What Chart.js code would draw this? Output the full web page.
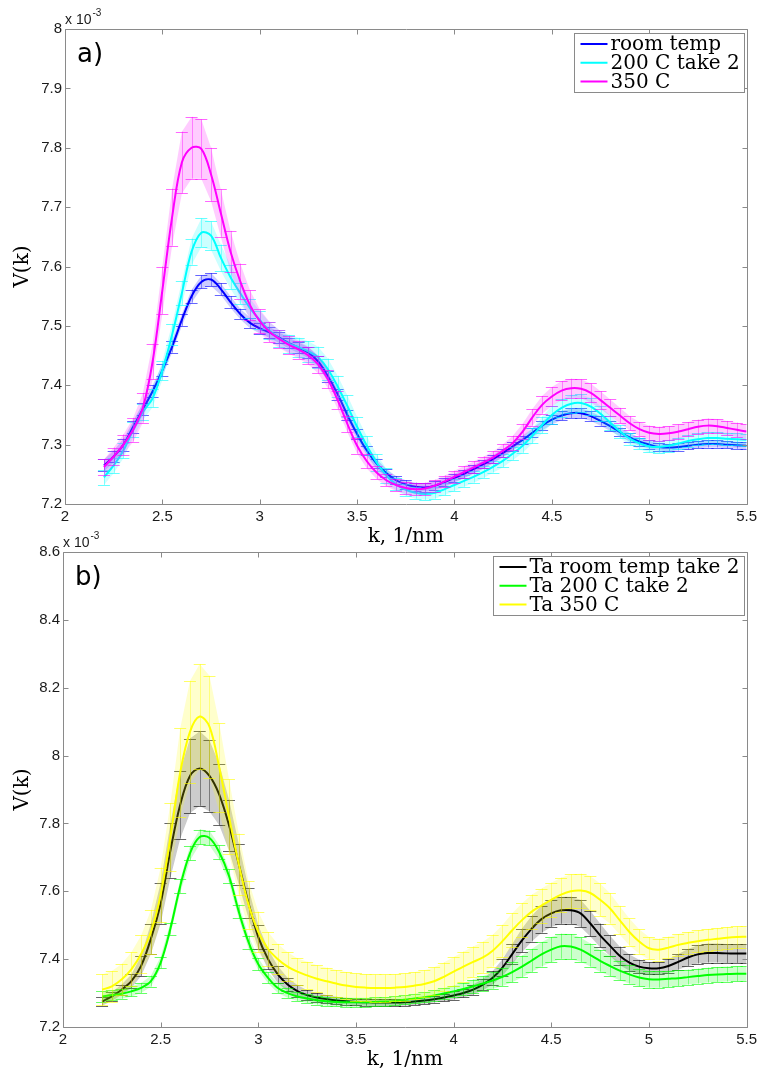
<!DOCTYPE html>
<html>
<head>
<meta charset="utf-8">
<title>V(k)</title>
<script src="https://cdn.jsdelivr.net/npm/chart.js@4.4.0/dist/chart.umd.min.js"></script>
<style>
  html, body { margin: 0; padding: 0; background: #fff; }
  #page { position: relative; width: 761px; height: 1074px; overflow: hidden; }
  canvas { position: absolute; left: 0; }
  #chartA { top: 0; }
  #chartB { top: 523px; }
</style>
</head>
<body>
<div id="page">
  <canvas id="chartA" width="761" height="560"></canvas>
  <canvas id="chartB" width="761" height="551"></canvas>
</div>
<script>
// k grid, 1/nm
const kValues = [
  2.2, 2.25, 2.3, 2.35, 2.4, 2.45, 2.5, 2.55, 2.6, 2.65,
  2.7, 2.75, 2.8, 2.85, 2.9, 2.95, 3, 3.05, 3.1, 3.15,
  3.2, 3.25, 3.3, 3.35, 3.4, 3.45, 3.5, 3.55, 3.6, 3.65,
  3.7, 3.75, 3.8, 3.85, 3.9, 3.95, 4, 4.05, 4.1, 4.15,
  4.2, 4.25, 4.3, 4.35, 4.4, 4.45, 4.5, 4.55, 4.6, 4.65,
  4.7, 4.75, 4.8, 4.85, 4.9, 4.95, 5, 5.05, 5.1, 5.15,
  5.2, 5.25, 5.3, 5.35, 5.4, 5.45, 5.5
];
const kTicks = [2, 2.5, 3, 3.5, 4, 4.5, 5, 5.5];

// a) V(k), units of 1e-3
const roomTemp = [
  7.265, 7.28, 7.30, 7.33, 7.36, 7.39, 7.425, 7.465, 7.51, 7.55,
  7.574, 7.578, 7.562, 7.54, 7.52, 7.505, 7.496, 7.489, 7.48, 7.471,
  7.463, 7.455, 7.44, 7.415, 7.385, 7.35, 7.318, 7.29, 7.268, 7.252,
  7.24, 7.233, 7.229, 7.228, 7.231, 7.237, 7.244, 7.251, 7.259, 7.267,
  7.276, 7.286, 7.297, 7.308, 7.32, 7.332, 7.342, 7.349, 7.353, 7.353,
  7.348, 7.34, 7.331, 7.321, 7.312, 7.305, 7.30, 7.296, 7.295, 7.296,
  7.298, 7.30, 7.301, 7.301, 7.30, 7.299, 7.298
];
const roomTempErr = [
  .010, .010, .010, .010, .010, .010, .010, .010, .010, .011,
  .011, .011, .010, .010, .009, .009, .009, .009, .009, .009,
  .009, .009, .009, .009, .009, .009, .008, .008, .008, .007,
  .007, .007, .007, .007, .007, .007, .007, .007, .007, .007,
  .007, .007, .007, .007, .008, .008, .008, .008, .008, .008,
  .008, .008, .008, .007, .007, .007, .007, .006, .006, .006,
  .006, .006, .006, .006, .006, .006, .006
];
const take200 = [
  7.245, 7.265, 7.29, 7.325, 7.355, 7.378, 7.425, 7.485, 7.555, 7.625,
  7.657, 7.652, 7.615, 7.582, 7.555, 7.53, 7.51, 7.492, 7.479, 7.47,
  7.464, 7.457, 7.447, 7.427, 7.398, 7.365, 7.33, 7.298, 7.27, 7.248,
  7.233, 7.224, 7.219, 7.217, 7.219, 7.225, 7.232, 7.239, 7.246, 7.254,
  7.263, 7.273, 7.285, 7.298, 7.315, 7.333, 7.35, 7.362, 7.369, 7.37,
  7.364, 7.352, 7.337, 7.322, 7.31, 7.302, 7.297, 7.296, 7.298, 7.302,
  7.306, 7.309, 7.311, 7.311, 7.31, 7.309, 7.308
];
const take200Err = [
  .013, .013, .013, .013, .014, .015, .016, .018, .020, .022,
  .024, .024, .022, .020, .018, .016, .015, .014, .014, .015,
  .016, .017, .018, .018, .018, .018, .017, .016, .014, .012,
  .010, .010, .010, .010, .010, .010, .010, .010, .010, .010,
  .010, .011, .011, .012, .013, .014, .015, .015, .015, .015,
  .014, .013, .012, .011, .010, .010, .010, .010, .010, .010,
  .010, .010, .010, .010, .010, .010, .010
];
const temp350 = [
  7.262, 7.28, 7.30, 7.325, 7.362, 7.44, 7.56, 7.683, 7.775, 7.80,
  7.798, 7.755, 7.69, 7.625, 7.575, 7.535, 7.508, 7.49, 7.478, 7.468,
  7.46, 7.45, 7.435, 7.41, 7.375, 7.335, 7.298, 7.272, 7.253, 7.24,
  7.232, 7.227, 7.225, 7.226, 7.231, 7.238, 7.246, 7.254, 7.262, 7.27,
  7.279, 7.29, 7.303, 7.322, 7.346, 7.367, 7.381, 7.391, 7.395, 7.394,
  7.387, 7.375, 7.362, 7.349, 7.336, 7.326, 7.32, 7.318, 7.319, 7.322,
  7.326, 7.33, 7.332, 7.331, 7.328, 7.325, 7.322
];
const temp350Err = [
  .013, .015, .017, .020, .025, .030, .040, .048, .052, .052,
  .050, .045, .040, .035, .030, .025, .020, .017, .015, .015,
  .015, .015, .015, .015, .015, .014, .013, .012, .011, .010,
  .010, .010, .010, .010, .010, .010, .010, .010, .010, .010,
  .010, .011, .012, .013, .014, .015, .016, .016, .016, .016,
  .016, .015, .014, .013, .012, .012, .012, .012, .012, .012,
  .012, .012, .012, .012, .012, .012, .012
];
const yTicksA = [7.2, 7.3, 7.4, 7.5, 7.6, 7.7, 7.8, 7.9, 8];

// b) Ta samples, units of 1e-3
const taRoom = [
  7.275, 7.29, 7.31, 7.335, 7.38, 7.46, 7.565, 7.72, 7.855, 7.94,
  7.962, 7.94, 7.885, 7.795, 7.68, 7.565, 7.465, 7.40, 7.355, 7.325,
  7.306, 7.294, 7.287, 7.282, 7.278, 7.276, 7.274, 7.273, 7.272, 7.272,
  7.272, 7.273, 7.275, 7.278, 7.282, 7.287, 7.293, 7.30, 7.31, 7.325,
  7.345, 7.375, 7.415, 7.455, 7.49, 7.518, 7.535, 7.544, 7.544, 7.535,
  7.505, 7.47, 7.44, 7.41, 7.39, 7.378, 7.373, 7.373, 7.38, 7.392,
  7.405, 7.414, 7.418, 7.418, 7.417, 7.417, 7.417
];
const taRoomErr = [
  .012, .013, .015, .020, .030, .045, .060, .080, .100, .110,
  .110, .105, .090, .075, .060, .045, .035, .030, .025, .020,
  .018, .015, .013, .012, .011, .010, .010, .010, .010, .010,
  .010, .010, .010, .010, .010, .011, .012, .013, .015, .017,
  .020, .025, .030, .035, .038, .040, .040, .040, .040, .040,
  .038, .035, .030, .027, .024, .020, .018, .018, .020, .023,
  .025, .027, .028, .028, .028, .028, .028
];
const ta200 = [
  7.29, 7.294, 7.298, 7.305, 7.315, 7.335, 7.39, 7.49, 7.615, 7.712,
  7.76, 7.757, 7.715, 7.645, 7.54, 7.45, 7.385, 7.345, 7.315, 7.30,
  7.29, 7.284, 7.279, 7.276, 7.274, 7.273, 7.273, 7.273, 7.274, 7.275,
  7.277, 7.28, 7.284, 7.288, 7.293, 7.299, 7.305, 7.312, 7.32, 7.328,
  7.337, 7.348, 7.362, 7.378, 7.396, 7.414, 7.428, 7.438, 7.437, 7.428,
  7.412, 7.395, 7.38, 7.366, 7.355, 7.346, 7.341, 7.34, 7.342, 7.344,
  7.347, 7.35, 7.353, 7.355, 7.356, 7.357, 7.357
];
const ta200Err = [
  .015, .015, .015, .015, .015, .016, .017, .018, .020, .021,
  .022, .022, .021, .020, .020, .019, .018, .016, .015, .014,
  .013, .013, .013, .013, .013, .013, .013, .013, .013, .013,
  .013, .013, .014, .014, .015, .016, .017, .018, .020, .022,
  .024, .027, .030, .032, .034, .036, .037, .037, .037, .036,
  .034, .032, .030, .028, .027, .026, .025, .024, .024, .023,
  .022, .022, .022, .022, .022, .022, .022
];
const ta350 = [
  7.31, 7.32, 7.34, 7.37, 7.415, 7.48, 7.59, 7.76, 7.95, 8.07,
  8.115, 8.085, 7.965, 7.82, 7.68, 7.56, 7.48, 7.43, 7.40, 7.378,
  7.363, 7.352, 7.342, 7.335, 7.328, 7.322, 7.318, 7.316, 7.315, 7.315,
  7.316, 7.318, 7.322, 7.327, 7.335, 7.348, 7.363, 7.378, 7.392, 7.405,
  7.425, 7.453, 7.485, 7.515, 7.54, 7.558, 7.575, 7.59, 7.60, 7.602,
  7.595, 7.575, 7.55, 7.515, 7.48, 7.452, 7.432, 7.428, 7.434, 7.442,
  7.448, 7.453, 7.457, 7.46, 7.463, 7.465, 7.466
];
const ta350Err = [
  .045, .045, .046, .050, .055, .065, .080, .100, .130, .150,
  .155, .150, .130, .110, .090, .070, .060, .050, .045, .042,
  .040, .040, .040, .040, .040, .040, .040, .040, .040, .040,
  .040, .040, .040, .040, .041, .042, .043, .044, .045, .046,
  .047, .048, .050, .050, .050, .050, .050, .050, .050, .050,
  .050, .048, .045, .042, .040, .036, .033, .032, .032, .032,
  .032, .032, .032, .032, .032, .032, .032
];
const yTicksB = [7.2, 7.4, 7.6, 7.8, 8, 8.2, 8.4, 8.6];

const SANS = '"Liberation Sans", Arial, Helvetica, sans-serif';
const SERIF = '"DejaVu Serif", "Liberation Serif", serif';

function rgba(hex, a) {
    const n = parseInt(hex.slice(1), 16);
    return `rgba(${(n >> 16) & 255}, ${(n >> 8) & 255}, ${n & 255}, ${a})`;
}

function toPoints(values) {
    return kValues.map((k, i) => ({ x: k, y: values[i] }));
}

function series(label, color, values, errors, order) {
    return {
        label: label,
        data: toPoints(values),
        errors: errors,
        borderColor: color,
        backgroundColor: color,
        borderWidth: 2,
        pointRadius: 0,
        tension: 0.35,
        fill: false,
        order: order
    };
}

// error bars (band, stems, caps) drawn just under each curve
const errorBars = {
    id: 'errorBars',
    beforeDatasetDraw(chart, args) {
        const ds = chart.data.datasets[args.index];
        if (!ds.errors) return;
        const { ctx, chartArea: a } = chart;
        const xs = chart.scales.x, ys = chart.scales.y;
        const capHalf = 6;
        const hi = ds.data.map((p, i) => ys.getPixelForValue(p.y + ds.errors[i]));
        const lo = ds.data.map((p, i) => ys.getPixelForValue(p.y - ds.errors[i]));
        const px = ds.data.map(p => xs.getPixelForValue(p.x));

        ctx.save();
        ctx.beginPath();
        ctx.rect(a.left, a.top, a.right - a.left, a.bottom - a.top);
        ctx.clip();

        ctx.beginPath();
        px.forEach((x, i) => i ? ctx.lineTo(x, hi[i]) : ctx.moveTo(x, hi[i]));
        for (let i = px.length - 1; i >= 0; i--) ctx.lineTo(px[i], lo[i]);
        ctx.closePath();
        ctx.fillStyle = rgba(ds.borderColor, 0.2);
        ctx.fill();

        ctx.lineWidth = 1;
        ctx.strokeStyle = rgba(ds.borderColor, 0.4);
        ctx.beginPath();
        px.forEach((x, i) => {
            const sx = Math.round(x) + 0.5;
            ctx.moveTo(sx, hi[i]);
            ctx.lineTo(sx, lo[i]);
        });
        ctx.stroke();

        ctx.strokeStyle = rgba(ds.borderColor, 0.6);
        ctx.beginPath();
        px.forEach((x, i) => {
            [hi[i], lo[i]].forEach(y => {
                const sy = Math.round(y) + 0.5;
                ctx.moveTo(x - capHalf, sy);
                ctx.lineTo(x + capHalf, sy);
            });
        });
        ctx.stroke();
        ctx.restore();
    }
};

// grey box with inward ticks on all four sides
const axesBox = {
    id: 'axesBox',
    afterDatasetsDraw(chart) {
        const { ctx, chartArea: a } = chart;
        const xs = chart.scales.x, ys = chart.scales.y;
        const len = 5;
        const l = Math.round(a.left) + 0.5, r = Math.round(a.right) + 0.5;
        const t = Math.round(a.top) + 0.5, b = Math.round(a.bottom) + 0.5;
        ctx.save();
        ctx.strokeStyle = '#8a8a8a';
        ctx.lineWidth = 1;
        ctx.beginPath();
        ctx.rect(l, t, r - l, b - t);
        xs.ticks.forEach(tk => {
            const x = Math.round(xs.getPixelForValue(tk.value)) + 0.5;
            ctx.moveTo(x, b); ctx.lineTo(x, b - len);
            ctx.moveTo(x, t); ctx.lineTo(x, t + len);
        });
        ys.ticks.forEach(tk => {
            const y = Math.round(ys.getPixelForValue(tk.value)) + 0.5;
            ctx.moveTo(l, y); ctx.lineTo(l + len, y);
            ctx.moveTo(r, y); ctx.lineTo(r - len, y);
        });
        ctx.stroke();
        ctx.restore();
    }
};

// panel tag, exponent label and boxed legend
const panelText = {
    id: 'panelText',
    afterDraw(chart, args, opts) {
        const { ctx, chartArea: a } = chart;
        ctx.save();

        ctx.fillStyle = '#1a1a1a';
        ctx.textBaseline = 'alphabetic';
        ctx.textAlign = 'left';
        ctx.font = '14px ' + SANS;
        ctx.fillText('x 10', a.left, a.top - 5);
        const w = ctx.measureText('x 10').width;
        ctx.font = '10px ' + SANS;
        ctx.fillText('-3', a.left + w + 1, a.top - 13);

        ctx.fillStyle = '#000';
        ctx.font = '26px "DejaVu Sans", sans-serif';
        ctx.fillText(opts.tag, a.left + 12, a.top + 33);

        const items = chart.data.datasets.map(d => ({ label: d.label, color: d.borderColor }));
        ctx.font = '20px ' + SERIF;
        const textW = Math.max(...items.map(it => ctx.measureText(it.label).width));
        const boxW = Math.round(36 + textW + 5);
        const boxH = 59;
        const bx = Math.round(a.right) - 3 - boxW + 0.5;
        const by = Math.round(a.top) + 4 + 0.5;
        ctx.fillStyle = '#fff';
        ctx.fillRect(bx, by, boxW, boxH);
        ctx.strokeStyle = '#8a8a8a';
        ctx.lineWidth = 1;
        ctx.strokeRect(bx, by, boxW, boxH);
        ctx.textBaseline = 'middle';
        items.forEach((it, i) => {
            const y = by + 11.5 + i * 18.75;
            ctx.strokeStyle = it.color;
            ctx.lineWidth = 2;
            ctx.beginPath();
            ctx.moveTo(bx + 6, y - 1);
            ctx.lineTo(bx + 33, y - 1);
            ctx.stroke();
            ctx.fillStyle = '#000';
            ctx.fillText(it.label, bx + 36, y);
        });
        ctx.restore();
    }
};

function tickText(v) {
    return String(parseFloat(v.toFixed(1)));
}

function makePanel(canvasId, datasets, yTicks, layout) {
    const ctx = document.getElementById(canvasId).getContext('2d');
    return new Chart(ctx, {
        type: 'line',
        data: { datasets: datasets },
        plugins: [errorBars, axesBox, panelText],
        options: {
            responsive: false,
            animation: false,
            layout: { padding: { left: 0, right: layout.right, top: 29, bottom: 0 } },
            plugins: {
                legend: { display: false },
                tooltip: { enabled: false },
                panelText: { tag: layout.tag }
            },
            scales: {
                x: {
                    type: 'linear',
                    min: 2,
                    max: 5.5,
                    afterBuildTicks: s => { s.ticks = kTicks.map(v => ({ value: v })); },
                    afterFit: s => { s.height = layout.xHeight; },
                    grid: { display: false, drawTicks: false },
                    border: { display: false },
                    ticks: {
                        autoSkip: false,
                        maxRotation: 0,
                        padding: 4,
                        color: '#1a1a1a',
                        font: { family: SANS, size: 15 },
                        callback: tickText
                    },
                    title: {
                        display: true,
                        text: 'k, 1/nm',
                        color: '#000',
                        font: { family: SERIF, size: 20 },
                        padding: { top: 0, bottom: layout.titlePad }
                    }
                },
                y: {
                    type: 'linear',
                    min: yTicks[0],
                    max: yTicks[yTicks.length - 1],
                    afterBuildTicks: s => { s.ticks = yTicks.map(v => ({ value: v })); },
                    afterFit: s => { s.width = layout.left; },
                    grid: { display: false, drawTicks: false },
                    border: { display: false },
                    ticks: {
                        autoSkip: false,
                        padding: 3,
                        color: '#1a1a1a',
                        font: { family: SANS, size: 15 },
                        callback: tickText
                    },
                    title: {
                        display: true,
                        text: 'V(k)',
                        color: '#000',
                        font: { family: SERIF, size: 20 },
                        padding: { top: 11, bottom: 0 }
                    }
                }
            }
        }
    });
}

makePanel('chartA', [
    series('room temp', '#0000ff', roomTemp, roomTempErr, 3),
    series('200 C take 2', '#00ffff', take200, take200Err, 2),
    series('350 C', '#ff00ff', temp350, temp350Err, 1)
], yTicksA, { tag: 'a)', left: 65, right: 12, xHeight: 56, titlePad: 11 });

makePanel('chartB', [
    series('Ta room temp take 2', '#000000', taRoom, taRoomErr, 3),
    series('Ta 200 C take 2', '#00ff00', ta200, ta200Err, 2),
    series('Ta 350 C', '#ffff00', ta350, ta350Err, 1)
], yTicksB, { tag: 'b)', left: 63, right: 13, xHeight: 47, titlePad: 2 });
</script>
</body>
</html>
